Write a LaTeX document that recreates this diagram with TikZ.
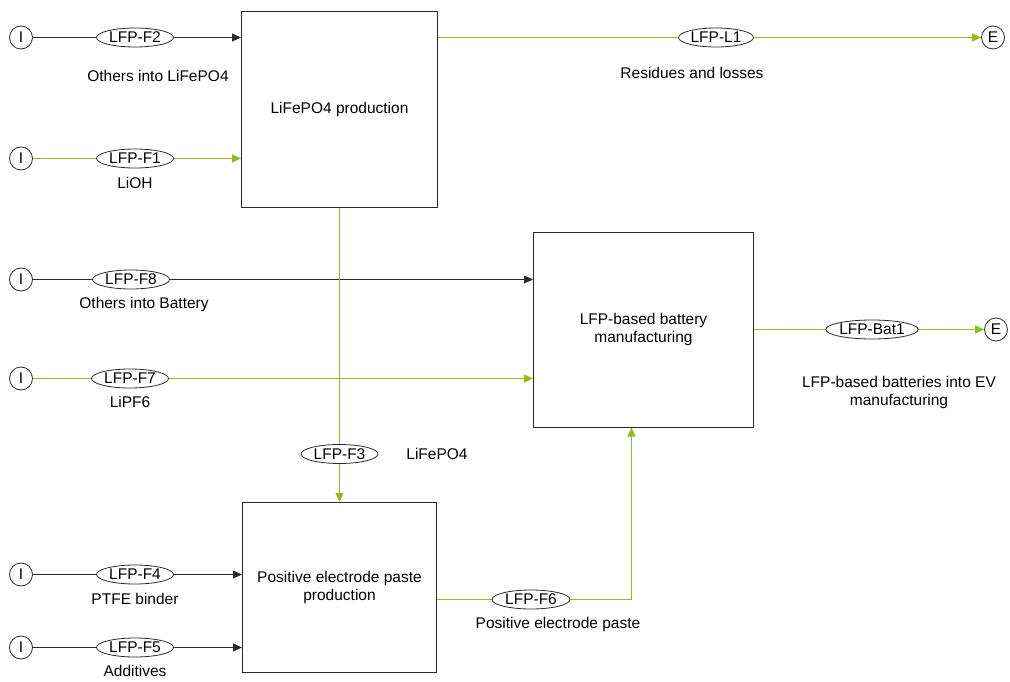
\documentclass[tikz,border=0pt]{standalone}
\usepackage{fontspec}
\setmainfont{Liberation Sans}
\usetikzlibrary{shapes.geometric,arrows.meta}
\definecolor{flowgreen}{HTML}{8AC01A}
\definecolor{inkgray}{HTML}{2A2A2A}

\begin{document}
\begin{tikzpicture}[x=1pt,y=-1pt,
  every node/.style={font=\fontsize{15.5}{18}\selectfont, text=black},
  proc/.style={draw=inkgray, line width=1pt, fill=white, align=center, inner sep=0pt},
  flowtag/.style={ellipse, draw=inkgray, line width=0.8pt, fill=white,
                  minimum width=77, minimum height=19, inner sep=0pt},
  term/.style={circle, draw=inkgray, line width=0.8pt, fill=white,
               minimum size=23, inner sep=0pt},
  karr/.style={draw=inkgray, line width=1pt, -{Triangle[length=9,width=8]}},
  garr/.style={draw=flowgreen, line width=1.2pt, -{Triangle[length=9,width=8]}}]

\useasboundingbox (0,0) rectangle (1010,682);

% process boxes
\node[proc, minimum width=196, minimum height=196] (b1) at (339.5,109.5) {LiFePO4 production};
\node[proc, minimum width=220, minimum height=195] (b2) at (643.5,329.5) {LFP-based battery\\manufacturing};
\node[proc, minimum width=194, minimum height=170] (b3) at (339.5,587.5) {Positive electrode paste\\production};

% input and output terminals
\node[term] (i2) at (21,37.5) {I};
\node[term] (i1) at (21,158.5) {I};
\node[term] (i8) at (21,279.5) {I};
\node[term] (i7) at (21,378.5) {I};
\node[term] (i4) at (21,574.5) {I};
\node[term] (i5) at (21,647.5) {I};
\node[term] (eL) at (993,37.5) {E};
\node[term] (eB) at (996,329.5) {E};

% corner of the paste line
\coordinate (knee) at (631.5,599.5);

% connectors
\draw[karr] (i2) -- (i2 -| b1.west);
\draw[garr] (i1) -- (i1 -| b1.west);
\draw[karr] (i8) -- (i8 -| b2.west);
\draw[garr] (i7) -- (i7 -| b2.west);
\draw[karr] (i4) -- (i4 -| b3.west);
\draw[karr] (i5) -- (i5 -| b3.west);
\draw[garr] (b1.east |- eL) -- (eL);
\draw[garr] (b1.south) -- (b3.north);
\draw[garr] (b3.east |- knee) -- (knee) -- (knee |- b2.south);
\draw[garr] (b2.east |- eB) -- (eB);

% flow tags on the connectors
\node[flowtag] (f2) at (135,37.5) {LFP-F2};
\node[flowtag] (f1) at (135,158.5) {LFP-F1};
\node[flowtag] (f8) at (131,279.5) {LFP-F8};
\node[flowtag] (f7) at (130,378.5) {LFP-F7};
\node[flowtag] (f4) at (135,574.5) {LFP-F4};
\node[flowtag] (f5) at (135,647.5) {LFP-F5};
\node[flowtag, minimum width=75] (l1) at (716,37.5) {LFP-L1};
\node[flowtag] (f3) at (339.5,454) {LFP-F3};
\node[flowtag, minimum width=78] (f6) at (531,599.5) {LFP-F6};
\node[flowtag, minimum width=91] (bt) at (872,329.5) {LFP-Bat1};

% flow descriptions
\node (t2) at (158,76) {Others into LiFePO4};
\node (t1) at (135,183) {LiOH};
\node (t8) at (144,304) {Others into Battery};
\node (t7) at (130,402) {LiPF6};
\node (t4) at (135,599) {PTFE binder};
\node (t5) at (135,671) {Additives};
\node (tl) at (692,73) {Residues and losses};
\node (t3) at (437,454) {LiFePO4};
\node (t6) at (558,624) {Positive electrode paste};
\node[align=center] (tb) at (899,392) {LFP-based batteries into EV\\manufacturing};
\end{tikzpicture}
\end{document}
